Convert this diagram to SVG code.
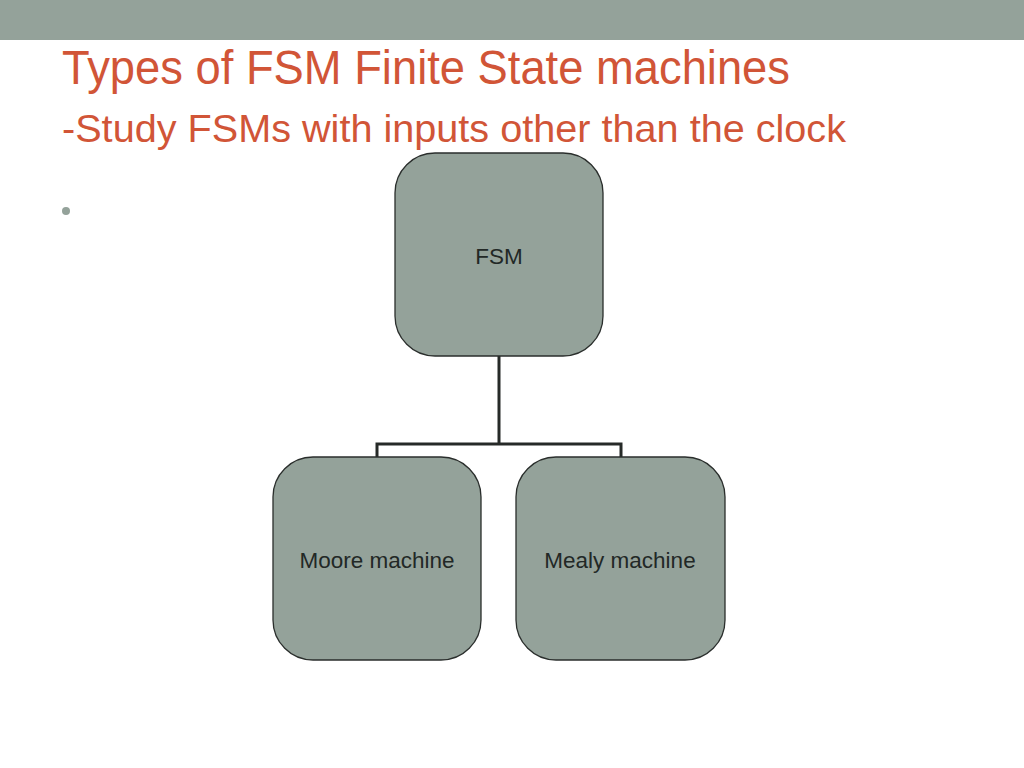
<svg xmlns="http://www.w3.org/2000/svg" width="1024" height="768" viewBox="0 0 1024 768">
<style>
.node{fill:#94a29a;stroke:#2a2e2c;stroke-width:1.3}
.lbl{font-family:"Liberation Sans",Arial,sans-serif;font-size:22.5px;fill:#222826;text-anchor:middle}
.title{font-family:"Liberation Sans",Arial,sans-serif;fill:#d15537}
.conn{fill:none;stroke:#262a28;stroke-width:3}
</style>
<rect x="0" y="0" width="1024" height="768" fill="#ffffff"/>
<rect x="0" y="0" width="1024" height="40" fill="#94a29a"/>
<text class="title" x="62" y="84" font-size="49" textLength="728" lengthAdjust="spacingAndGlyphs">Types of FSM Finite State machines</text>
<text class="title" x="62" y="142" font-size="39" textLength="784" lengthAdjust="spacingAndGlyphs">-Study FSMs with inputs other than the clock</text>
<circle cx="66" cy="211" r="4" fill="#94a29a"/>
<g id="connectors">
<path class="conn" d="M499,356 V444 M377,457 V444 H621 V457"/>
</g>
<g id="fsm">
<rect class="node" x="395" y="153" width="208" height="203" rx="40"/>
<text class="lbl" x="499" y="264">FSM</text>
</g>
<g id="moore">
<rect class="node" x="273" y="457" width="208" height="203" rx="40"/>
<text class="lbl" x="377" y="568">Moore machine</text>
</g>
<g id="mealy">
<rect class="node" x="516" y="457" width="209" height="203" rx="40"/>
<text class="lbl" x="620" y="568">Mealy machine</text>
</g>
</svg>
